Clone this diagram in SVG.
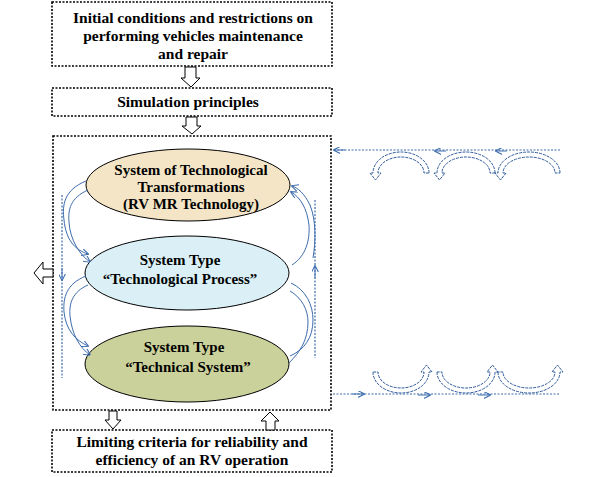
<svg xmlns="http://www.w3.org/2000/svg" width="598" height="477" viewBox="0 0 598 477">
<style>
.box{fill:#fff;stroke:#000;stroke-width:1.6;stroke-dasharray:2 1.5}
.t{font-family:"Liberation Serif","Times New Roman",serif;font-weight:bold;font-size:15.5px;fill:#000;text-anchor:middle}
.te{font-family:"Liberation Serif","Times New Roman",serif;font-weight:bold;font-size:15px;fill:#000;text-anchor:middle}
.ell{stroke:#000;stroke-width:1}
.hol{fill:#fff;stroke:#000;stroke-width:1}
.c{fill:none;stroke:#3d6cad;stroke-width:1}
.cd{fill:none;stroke:#3d6cad;stroke-width:1.2;stroke-dasharray:2 1.5}
.arc{fill:#fff;stroke:#2f5a9a;stroke-width:1;stroke-dasharray:3 1}
</style>
<defs>
<marker id="ah" viewBox="0 0 10 10" refX="9" refY="5" markerWidth="7" markerHeight="7" orient="auto-start-reverse" markerUnits="userSpaceOnUse">
<path d="M0,0 L10,5 L0,10" fill="none" stroke="#3d6cad" stroke-width="1.5"/>
</marker>
</defs>

<g id="n1">
<rect class="box" x="52" y="2" width="280" height="64"/>
<text class="t" x="193" y="23">Initial conditions and restrictions on</text>
<text class="t" x="193" y="41">performing  vehicles maintenance</text>
<text class="t" x="193" y="59">and repair</text>
</g>
<g id="n2">
<rect class="box" x="52" y="88" width="280" height="28"/>
<text class="t" x="188" y="107">Simulation  principles</text>
</g>
<g id="frame">
<rect class="box" x="53" y="136" width="278" height="274"/>
</g>
<g id="e1">
<ellipse class="ell" cx="188" cy="185" rx="102" ry="36" fill="#f3e5c6"/>
<text class="te" x="191" y="175">System  of Technological</text>
<text class="te" x="191" y="192">Transformations</text>
<text class="te" x="191" y="209">(RV  MR Technology)</text>
</g>
<g id="e2">
<ellipse class="ell" cx="187" cy="273" rx="102" ry="37" fill="#daf0f6"/>
<text class="te" x="180" y="265">System  Type</text>
<text class="te" x="180" y="284">“Technological  Process”</text>
</g>
<g id="e3">
<ellipse class="ell" cx="187" cy="364" rx="102" ry="38" fill="#cbd19a"/>
<text class="te" x="184" y="352">System Type</text>
<text class="te" x="188" y="372">“Technical  System”</text>
</g>
<g id="n4">
<rect class="box" x="52" y="430" width="280" height="42"/>
<text class="t" x="192" y="447">Limiting  criteria  for  reliability  and</text>
<text class="t" x="192" y="465">efficiency of an RV operation</text>
</g>

<g id="connectors">
<!-- hollow block arrows -->
<path class="hol" d="M185,67 L196,67 L196,78 L200,78 L191,87 L181,78 L185,78 Z"/>
<path class="hol" d="M186,117 L197,117 L197,126 L201,126 L192,134 L182,126 L186,126 Z"/>
<path class="hol" d="M53,269 L43,269 L43,262 L34,273 L43,284 L43,277 L53,277 Z"/>
<path class="hol" d="M109,411 L117,411 L117,420 L121,420 L113,429 L105,420 L109,420 Z"/>
<path class="hol" d="M266,430 L275,430 L275,421 L279,421 L270,412 L261,421 L266,421 Z"/>

<!-- left side connectors -->
<path class="c" d="M86,181 C64,190 62,205 64,220 C66,240 75,250 88,254" marker-end="url(#ah)"/>
<path class="c" d="M88,190 C70,198 68,210 69,222 C70,240 80,255 90,262" marker-end="url(#ah)"/>
<path class="cd" d="M62,195 L62,378"/>
<path class="c" d="M62,268 L62,280" marker-end="url(#ah)"/>
<path class="c" d="M86,276 C66,284 63,298 64,312 C66,330 75,340 88,346" marker-end="url(#ah)"/>
<path class="c" d="M88,285 C72,292 69,304 70,316 C72,335 80,348 90,355" marker-end="url(#ah)"/>

<!-- right side connectors -->
<path class="c" d="M313,258 C316,240 316,220 310,205 C304,193 298,188 292,186" marker-end="url(#ah)"/>
<path class="c" d="M292,265 C306,256 310,240 309,225 C307,208 300,197 291,192" marker-end="url(#ah)"/>
<path class="cd" d="M315,200 L315,358"/>
<path class="c" d="M315,278 L315,266" marker-end="url(#ah)"/>
<path class="c" d="M291,283 C306,290 313,305 313,320 C313,338 304,350 290,356"/>
<path class="c" d="M290,291 C302,298 308,310 308,322 C308,340 300,352 289,363"/>

<!-- top-right cycle -->
<path class="cd" d="M560,150 L334,150"/>
<path class="c" d="M345,150 L334,150" marker-end="url(#ah)"/>
<path class="c" d="M446,151 L435,151" marker-end="url(#ah)"/>
<path class="c" d="M507,151 L496,151" marker-end="url(#ah)"/>
<path class="arc" d="M429,173 A28,21 0 0 0 373,173 L370,173 L375.5,180 L381,173 L378,173 A23,16 0 0 1 424,173 Z"/>
<path class="arc" d="M495,173 A29,21 0 0 0 437,173 L434,173 L439.5,180 L445,173 L442,173 A24,16 0 0 1 490,173 Z"/>
<path class="arc" d="M560,173 A31,21 0 0 0 498,173 L495,173 L500.5,180 L506,173 L503,173 A26,16 0 0 1 555,173 Z"/>

<!-- bottom-right cycle -->
<path class="cd" d="M333,394 L560,394"/>
<path class="c" d="M352,394 L364,394" marker-end="url(#ah)"/>
<path class="c" d="M418,395 L430,395" marker-end="url(#ah)"/>
<path class="c" d="M478,395 L490,395" marker-end="url(#ah)"/>
<path class="arc" d="M373,372 A28,21 0 0 0 429,372 L432,372 L426.5,365 L421,372 L424,372 A23,16 0 0 1 378,372 Z"/>
<path class="arc" d="M437,372 A29,21 0 0 0 495,372 L498,372 L492.5,365 L487,372 L490,372 A24,16 0 0 1 442,372 Z"/>
<path class="arc" d="M498,372 A31,21 0 0 0 560,372 L563,372 L557.5,365 L552,372 L555,372 A26,16 0 0 1 503,372 Z"/>
</g>
</svg>
